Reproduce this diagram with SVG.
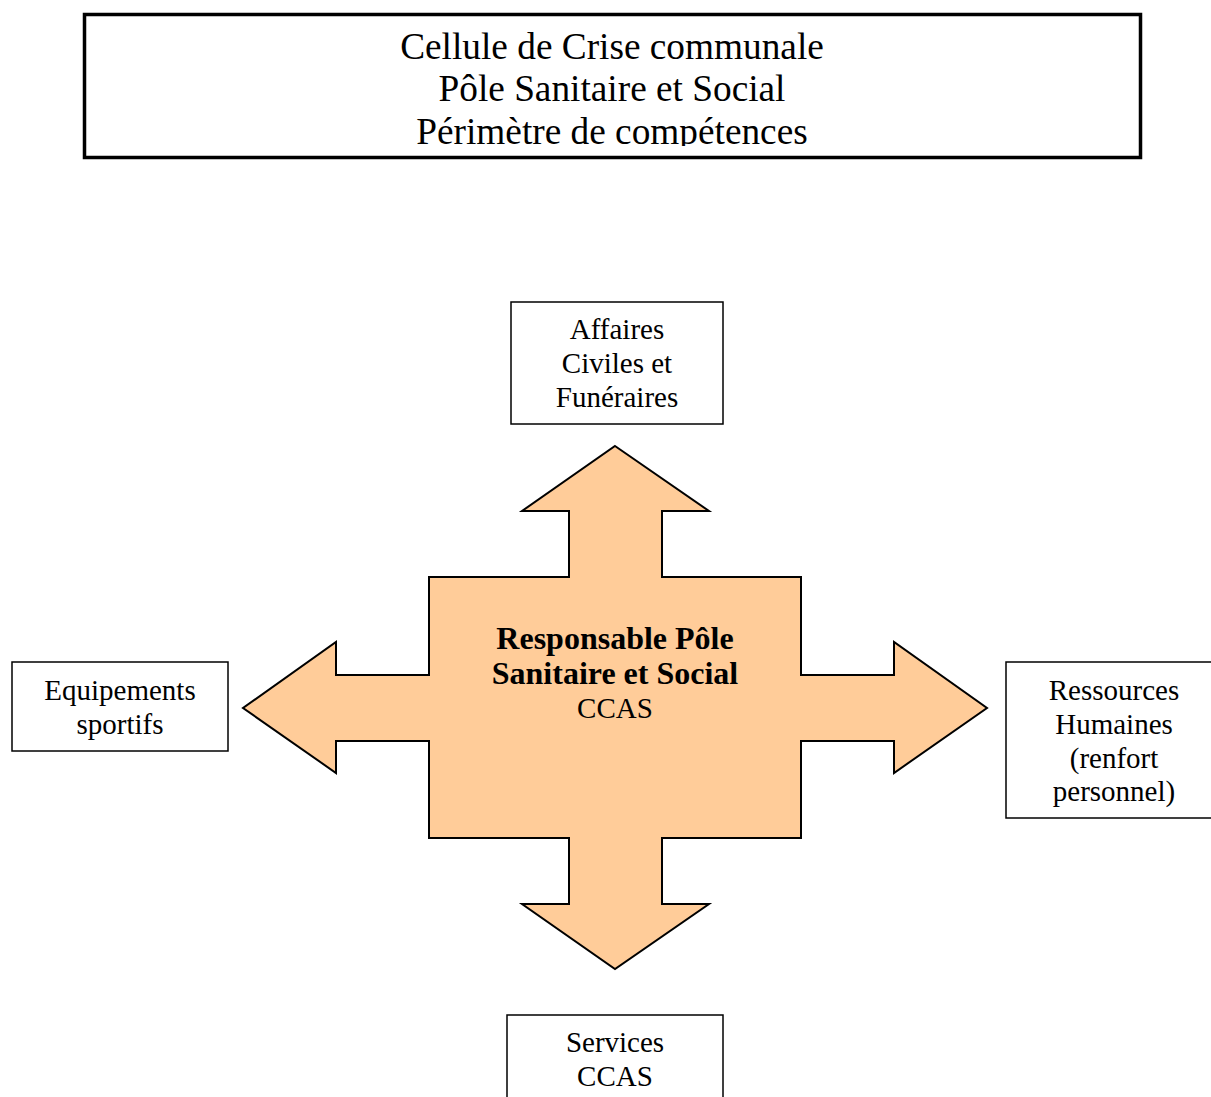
<svg xmlns="http://www.w3.org/2000/svg" width="1211" height="1097" viewBox="0 0 1211 1097">
  <style>
    .box { fill: #ffffff; stroke: #000000; stroke-width: 1.5; }
    .lbl { font-family: "Liberation Serif", "Times New Roman", serif; font-size: 29px; fill: #000000; text-anchor: middle; }
    .title { font-family: "Liberation Serif", "Times New Roman", serif; font-size: 37.3px; fill: #000000; text-anchor: middle; }
    .bold { font-weight: bold; font-size: 32px; }
  </style>
  <defs>
    <clipPath id="titleClip">
      <rect x="86" y="16" width="1052" height="130"/>
    </clipPath>
  </defs>
  <rect width="1211" height="1097" fill="#ffffff"/>

  <!-- Title box -->
  <g id="title">
    <rect x="84.5" y="14.5" width="1056" height="143" fill="#ffffff" stroke="#000000" stroke-width="3.5"/>
    <g clip-path="url(#titleClip)">
      <text class="title" x="612" y="59">Cellule de Crise communale</text>
      <text class="title" x="612" y="101">Pôle Sanitaire et Social</text>
      <text class="title" x="612" y="144">Périmètre de compétences</text>
    </g>
  </g>

  <!-- Central four-way arrow -->
  <g id="responsable">
    <polygon fill="#ffcc99" stroke="#000000" stroke-width="2" stroke-linejoin="miter"
      points="615,446 709,511 662,511 662,577 801,577 801,675 894,675 894,642 987,708 894,773 894,741 801,741 801,838 662,838 662,904 709,904 615,969 522,904 569,904 569,838 429,838 429,741 336,741 336,773 243,708 336,642 336,675 429,675 429,577 569,577 569,511 522,511"/>
    <text class="lbl bold" x="615" y="649">Responsable Pôle</text>
    <text class="lbl bold" x="615" y="684">Sanitaire et Social</text>
    <text class="lbl" x="615" y="718">CCAS</text>
  </g>

  <!-- Surrounding services -->
  <g id="affaires-civiles">
    <rect class="box" x="511" y="302" width="212" height="122"/>
    <text class="lbl" x="617" y="339">Affaires</text>
    <text class="lbl" x="617" y="373">Civiles et</text>
    <text class="lbl" x="617" y="407">Funéraires</text>
  </g>

  <g id="equipements-sportifs">
    <rect class="box" x="12" y="662" width="216" height="89"/>
    <text class="lbl" x="120" y="700">Equipements</text>
    <text class="lbl" x="120" y="734">sportifs</text>
  </g>

  <g id="ressources-humaines">
    <rect class="box" x="1006" y="662" width="216" height="156"/>
    <text class="lbl" x="1114" y="700">Ressources</text>
    <text class="lbl" x="1114" y="734">Humaines</text>
    <text class="lbl" x="1114" y="768">(renfort</text>
    <text class="lbl" x="1114" y="801">personnel)</text>
  </g>

  <g id="services-ccas">
    <rect class="box" x="507" y="1015" width="216" height="100"/>
    <text class="lbl" x="615" y="1052">Services</text>
    <text class="lbl" x="615" y="1086">CCAS</text>
  </g>

  <g id="connectors"></g>
</svg>
